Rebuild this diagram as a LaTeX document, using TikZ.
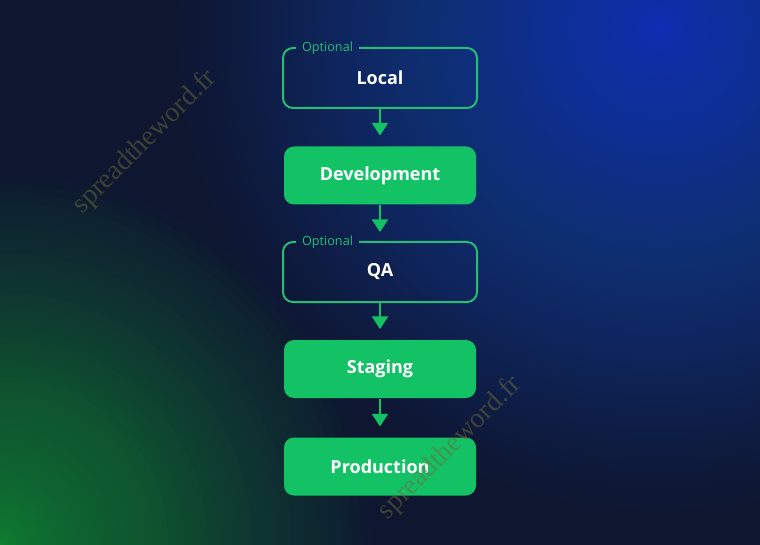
\documentclass[tikz,border=0pt]{standalone}
\usepackage{fontspec}
\setmainfont{Open Sans}
\newfontfamily\markfont{Liberation Serif}
\usetikzlibrary{arrows.meta,calc}

\definecolor{bgnavy}{HTML}{0E1630}
\definecolor{glowblue}{HTML}{3A60F8}
\definecolor{glowgreen}{HTML}{0FB850}
\definecolor{stagegreen}{HTML}{14C266}
\definecolor{optgreen}{HTML}{27BD74}
\definecolor{markolive}{HTML}{6F6A3A}

\tikzset{every picture/.style={line width=1.5pt},
  stagebox/.style={minimum width=144pt, minimum height=43.5pt, inner sep=0pt,
    font=\fontsize{13.5}{16}\selectfont\bfseries, text=white},
  filledbox/.style={stagebox, fill=stagegreen, rounded corners=7.5pt},
  outline/.style={draw=optgreen, rounded corners=7.5pt},
  optlabel/.style={inner sep=0pt, text=optgreen, font=\fontsize{9.5}{11}\selectfont},
  flowarrow/.style={draw=stagegreen, line width=1.8pt, -{Triangle[width=12pt,length=9.5pt]}, shorten >=7.5pt},
  watermark/.style={text=markolive, opacity=0.5, font=\markfont\fontsize{21}{24}\selectfont}}

\begin{document}
\begin{tikzpicture}[x=0.75pt,y=0.75pt,yscale=-1,xscale=1]
        \useasboundingbox (0,0) rectangle (760,545);

        %Background and glows
        \fill[bgnavy] (0,0) rectangle (760,545);
        \begin{scope}
        \clip (0,0) rectangle (760,545);
        \foreach \k in {1,...,80}
          \fill[glowblue, opacity=0.02] (660,28) circle ({480*(\k/80)^2});
        \foreach \k in {1,...,80}
          \fill[glowgreen, opacity=0.02] (0,545) circle ({370*(\k/80)^2});
        \end{scope}

        %Shape: Rectangle (optional)
        \node[stagebox] (local) at (380,78) {Local};
        \draw[outline] ($(local.north west)+(13,0)$) -- (local.north west) -- (local.south west) -- (local.south east) -- (local.north east) -- ($(local.north west)+(76,0)$);
        % Text Node
        \node[optlabel] (localopt) at ($(local.north west)+(44.5,0)$) {Optional};

        %Shape: Rectangle
        \node[filledbox] (dev) at (380,175.5) {Development};

        %Shape: Rectangle (optional)
        \node[stagebox] (qa) at (380,272) {QA};
        \draw[outline] ($(qa.north west)+(13,0)$) -- (qa.north west) -- (qa.south west) -- (qa.south east) -- (qa.north east) -- ($(qa.north west)+(76,0)$);
        % Text Node
        \node[optlabel] (qaopt) at ($(qa.north west)+(44.5,0)$) {Optional};

        %Shape: Rectangle
        \node[filledbox] (staging) at (380,369) {Staging};
        %Shape: Rectangle
        \node[filledbox] (prod) at (380,466.5) {Production};

        %Arrows
        \draw[flowarrow] (local) -- (dev);
        \draw[flowarrow] (dev) -- (qa);
        \draw[flowarrow] (qa) -- (staging);
        \draw[flowarrow] (staging) -- (prod);

        %Watermarks
        \node[watermark, rotate=45] (markone) at (145,142) {spreadtheword.fr};
        \node[watermark, rotate=45] (marktwo) at (450,448) {spreadtheword.fr};
    \end{tikzpicture}
\end{document}
